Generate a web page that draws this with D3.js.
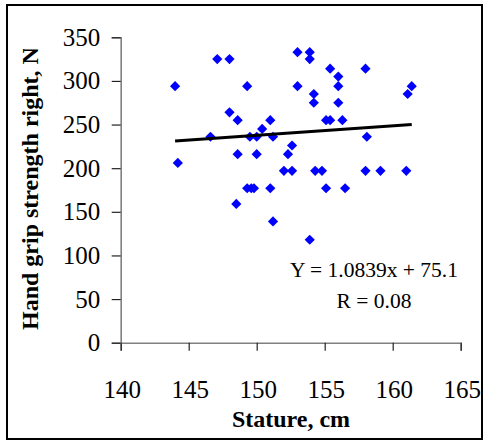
<!DOCTYPE html>
<html>
<head>
<meta charset="utf-8">
<script src="https://cdn.jsdelivr.net/npm/d3@7"></script>
<style>
  html, body { margin: 0; padding: 0; background: #fff; }
  svg { display: block; }
  text { font-family: "Liberation Serif", "Times New Roman", serif; fill: #000; }
</style>
</head>
<body>
<svg id="chart" width="485" height="441"></svg>
<script>
// Stature (cm) of each subject
const stature = [
  144.0, 144.2, 147.1, 148.0, 146.6, 148.0, 148.6, 148.6, 148.5, 149.3,
  149.5, 149.3, 149.6, 149.8, 150.0, 150.0, 150.4, 151.0, 151.2, 151.0,
  151.2, 152.0, 152.3, 152.6, 152.6, 153.0, 153.0, 153.9, 153.9, 153.9,
  154.2, 154.2, 154.3, 154.8, 155.1, 155.1, 155.4, 155.4, 156.0, 156.0,
  156.0, 156.3, 156.5, 158.0, 158.1, 158.0, 159.1, 161.0, 161.1, 161.4
];
// Right hand grip strength (N) of each subject
const gripRight = [
  294, 206, 325, 325, 236, 264, 255, 216, 159, 294,
  236, 177, 177, 177, 236, 216, 245, 255, 236, 177,
  139, 197, 216, 226, 197, 333, 294, 333, 325, 118,
  285, 275, 197, 197, 177, 255, 255, 314, 305, 294,
  275, 255, 177, 314, 236, 197, 197, 197, 285, 294
];
const xTicks = [140, 145, 150, 155, 160, 165];
const yTicks = [0, 50, 100, 150, 200, 250, 300, 350];
const slope = 1.0839, intercept = 75.1, rValue = 0.08;
const equationLines = ["Y = " + slope + "x + " + intercept, "R = " + rValue.toFixed(2)];

const svg = d3.select("#chart");

// outer chart frame
svg.append("rect")
  .attr("x", 7).attr("y", 5).attr("width", 475).attr("height", 434)
  .attr("fill", "#fff").attr("stroke", "#000").attr("stroke-width", 2);

const x = d3.scaleLinear().domain([140, 165]).range([120.7, 460.7]);
const y = d3.scaleLinear().domain([0, 350]).range([342.7, 37.3]);

// y axis
const yAxis = svg.append("g")
  .attr("transform", `translate(${x(140)},0)`)
  .call(d3.axisLeft(y).tickValues(yTicks).tickSize(9).tickSizeOuter(9).tickPadding(11.5));
yAxis.select(".domain").attr("stroke", "#808080").attr("stroke-width", 1.6);
yAxis.selectAll(".tick line").attr("stroke", "#222").attr("stroke-width", 1.2);
yAxis.selectAll(".tick text")
  .attr("font-family", "Liberation Serif").attr("font-size", 25)
  .attr("fill", "#000");

// x axis
const xAxis = svg.append("g")
  .attr("transform", `translate(0,${y(0)})`)
  .call(d3.axisBottom(x).tickValues(xTicks).tickSize(8).tickSizeOuter(8).tickPadding(0));
xAxis.select(".domain").attr("stroke", "#808080").attr("stroke-width", 1.6);
xAxis.selectAll(".tick line").attr("stroke", "#222").attr("stroke-width", 1.2);
xAxis.selectAll(".tick text")
  .attr("font-family", "Liberation Serif").attr("font-size", 25)
  .attr("fill", "#000")
  .attr("x", 1).attr("y", 55.3).attr("dy", null);

// data points as blue diamonds
const diamond = d3.symbol().type(d3.symbolSquare).size(52);
svg.append("g").selectAll("path")
  .data(stature.map((s, i) => ({ s, g: gripRight[i] })))
  .join("path")
  .attr("d", diamond)
  .attr("transform", d => `translate(${x(d.s)},${y(d.g)}) rotate(45)`)
  .attr("fill", "#0000ff");

// linear trend line over the range of the data
const [xmin, xmax] = d3.extent(stature);
svg.append("line")
  .attr("x1", x(xmin)).attr("y1", y(slope * xmin + intercept))
  .attr("x2", x(xmax)).attr("y2", y(slope * xmax + intercept))
  .attr("stroke", "#000").attr("stroke-width", 3);

// regression equation and correlation
svg.append("g").selectAll("text")
  .data(equationLines)
  .join("text")
  .attr("x", 374).attr("y", (d, i) => 276.7 + i * 31.6)
  .attr("text-anchor", "middle")
  .attr("font-size", 21.5)
  .text(d => d);

// axis titles
svg.append("text")
  .attr("x", 291).attr("y", 427)
  .attr("text-anchor", "middle")
  .attr("font-size", 24).attr("font-weight", "bold")
  .text("Stature, cm");

// the vertical title runs past the top of the chart area and is cut there
svg.append("clipPath").attr("id", "ytitle-clip")
  .append("rect").attr("x", 0).attr("y", 49).attr("width", 100).attr("height", 400);
svg.append("g").attr("clip-path", "url(#ytitle-clip)")
  .append("text")
  .attr("transform", "translate(38,330) rotate(-90)")
  .attr("text-anchor", "start")
  .attr("font-size", 24).attr("font-weight", "bold")
  .text("Hand grip strength right, N");
</script>
</body>
</html>
